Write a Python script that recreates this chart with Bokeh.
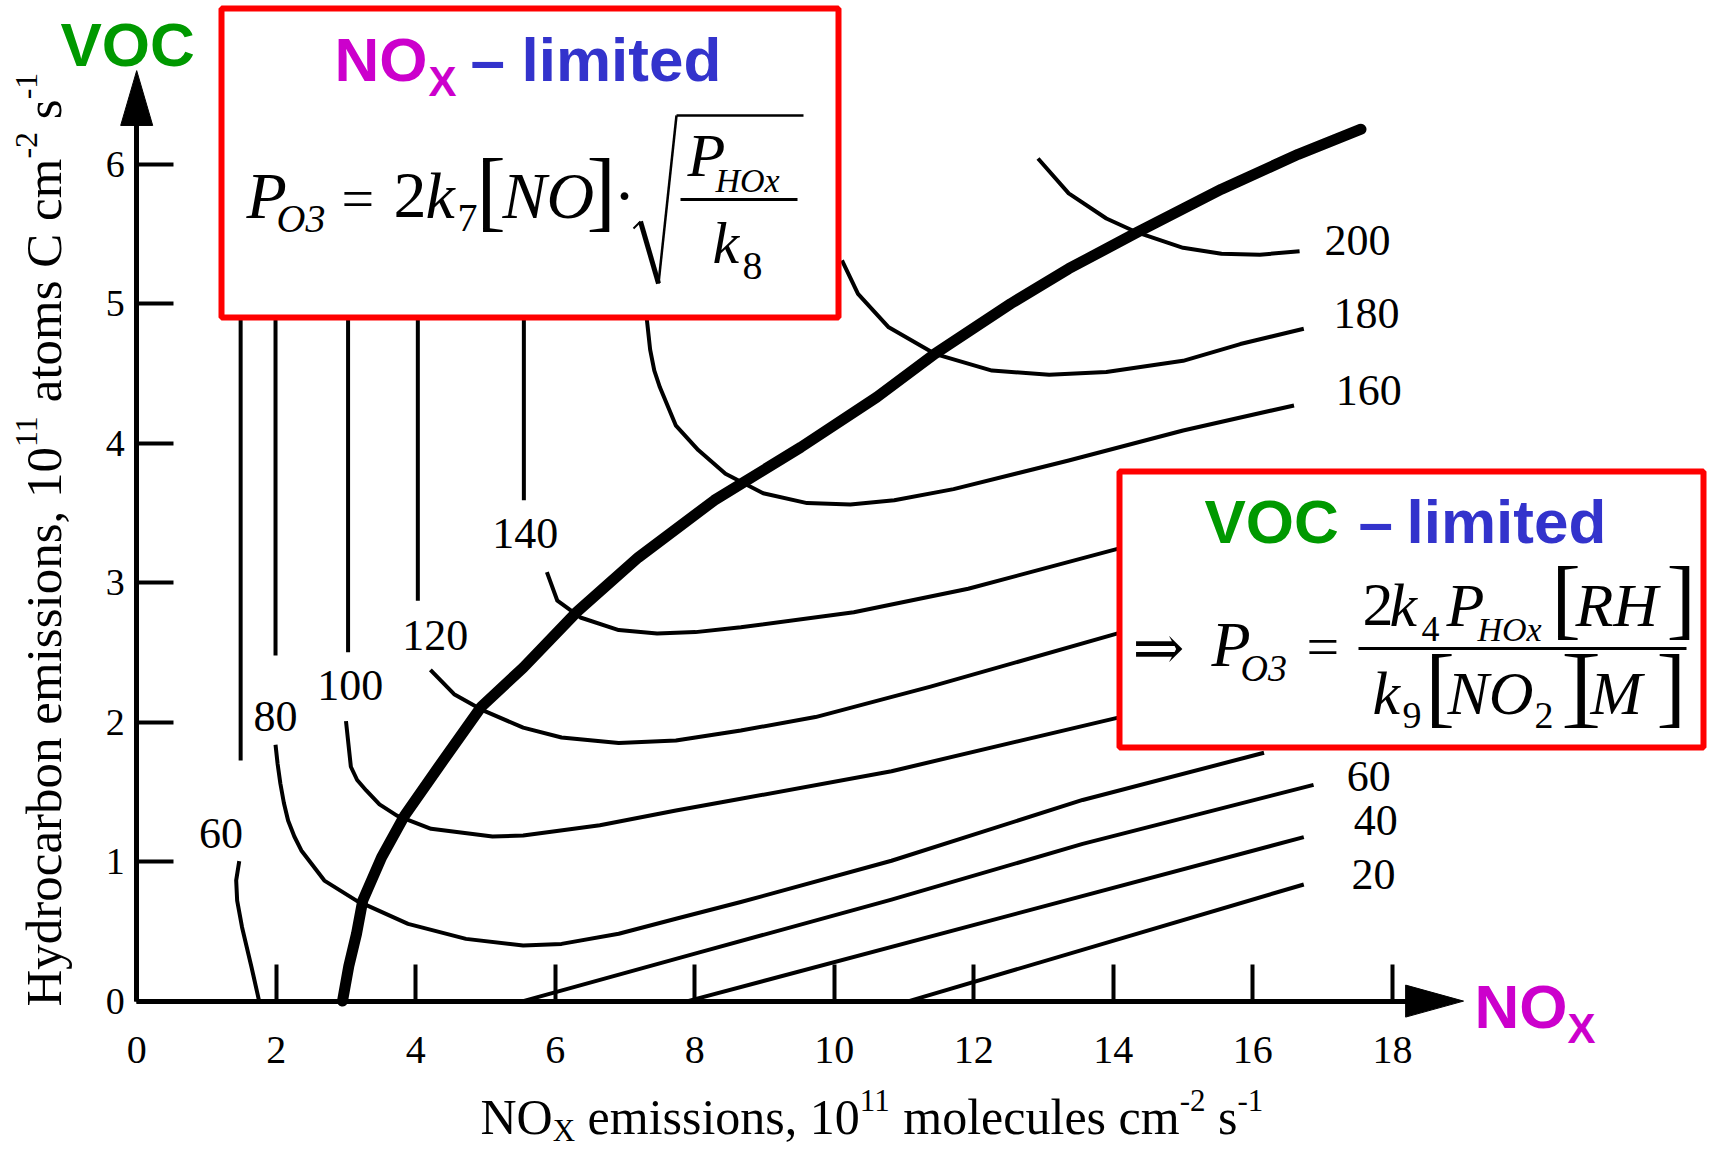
import math
from bokeh.plotting import figure
from bokeh.models import (Range1d, LinearAxis, FixedTicker, Label, BoxAnnotation,
                          Arrow, PolyAnnotation, ColumnDataSource)
from bokeh.core.properties import value
from bokeh.embed import file_html
from bokeh.resources import INLINE

# ---------------- data ----------------
x_ticks = [0, 2, 4, 6, 8, 10, 12, 14, 16, 18]
y_ticks = [0, 1, 2, 3, 4, 5, 6]

# thick ridge line separating NOx-limited and VOC-limited regimes
ridge_x = [2.95, 3.04, 3.15, 3.24, 3.51, 3.84, 4.33, 4.94, 5.54, 6.31, 7.19, 8.28,
           9.52, 10.61, 11.44, 12.53, 13.36, 14.34, 15.55, 16.65, 17.55]
ridge_y = [0.0, 0.25, 0.48, 0.72, 1.03, 1.33, 1.68, 2.11, 2.39, 2.79, 3.18, 3.59,
           3.97, 4.33, 4.64, 5.00, 5.25, 5.51, 5.82, 6.07, 6.25]

# ozone isopleths (ppb)
c60_top_x = [1.49, 1.49]
c60_top_y = [6.3, 1.725]
c60_low_x = [1.47, 1.426, 1.44, 1.51, 1.646, 1.755]
c60_low_y = [1.003, 0.865, 0.72, 0.53, 0.243, 0.0]
c60_right_x = [5.54, 8.08, 10.82, 13.56, 16.87]
c60_right_y = [0.0, 0.351, 0.727, 1.127, 1.55]

c80_top_x = [1.99, 1.99]
c80_top_y = [6.3, 2.477]
c80_low_x = [1.99, 2.02, 2.06, 2.11, 2.17, 2.26, 2.36, 2.69, 3.15, 3.89, 4.72, 5.54, 6.09,
             6.91, 7.73, 8.66, 10.82, 13.56, 16.16]
c80_low_y = [1.837, 1.70, 1.558, 1.42, 1.295, 1.18, 1.08, 0.864, 0.72, 0.554, 0.446, 0.399,
             0.41, 0.483, 0.59, 0.71, 1.006, 1.442, 1.78]

c100_top_x = [3.03, 3.03]
c100_top_y = [6.3, 2.50]
c100_low_x = [3.00, 3.07, 3.16, 3.29, 3.48, 3.73, 4.22, 5.10, 5.54, 6.64, 7.73, 8.66,
              10.82, 14.1]
c100_low_y = [2.007, 1.68, 1.585, 1.51, 1.41, 1.33, 1.235, 1.18, 1.187, 1.26, 1.366, 1.45,
              1.648, 2.036]

c120_top_x = [4.03, 4.03]
c120_top_y = [6.3, 2.87]
c120_low_x = [4.21, 4.55, 4.94, 5.54, 6.09, 6.91, 7.73, 8.66, 9.73, 11.38, 14.1]
c120_low_y = [2.375, 2.20, 2.09, 1.96, 1.89, 1.85, 1.868, 1.94, 2.036, 2.254, 2.641]

c140_top_x = [5.55, 5.55]
c140_top_y = [6.3, 3.59]
c140_low_x = [5.88, 6.03, 6.36, 6.91, 7.46, 8.01, 8.66, 10.28, 11.92, 14.1]
c140_low_y = [3.075, 2.87, 2.75, 2.66, 2.635, 2.645, 2.68, 2.787, 2.956, 3.247]

c160_x = [7.31, 7.36, 7.42, 7.50, 7.73, 8.05, 8.44, 8.98, 9.61, 10.23, 10.86, 11.71, 13.36,
          15.0, 16.59]
c160_y = [4.90, 4.67, 4.52, 4.40, 4.125, 3.95, 3.78, 3.64, 3.57, 3.56, 3.59, 3.67, 3.875,
          4.09, 4.27]

c180_x = [10.11, 10.34, 10.78, 11.44, 12.26, 13.08, 13.90, 15.0, 15.82, 16.73]
c180_y = [5.31, 5.07, 4.83, 4.64, 4.52, 4.49, 4.51, 4.59, 4.71, 4.82]

c200_x = [12.92, 13.36, 13.90, 14.34, 15.0, 15.55, 16.10, 16.67]
c200_y = [6.04, 5.79, 5.61, 5.51, 5.40, 5.357, 5.35, 5.376]

c40_x = [7.90, 16.73]
c40_y = [0.0, 1.175]
c20_x = [11.07, 16.73]
c20_y = [0.0, 0.836]

label_text = ["60", "80", "100", "120", "140", "160", "180", "200", "60", "40", "20"]
label_x = [1.21, 1.99, 3.06, 4.28, 5.57, 17.66, 17.63, 17.50, 17.66, 17.76, 17.73]
label_y = [1.20, 2.04, 2.26, 2.62, 3.35, 4.38, 4.93, 5.45, 1.61, 1.295, 0.91]

# ---------------- layout helpers ----------------
W, H = 1709, 1151
X0PX, XSCALE = 136.2, 69.76
Y0PX, YSCALE = 1000.6, 139.5


def dx(px):
    return (px - X0PX) / XSCALE


def dy(py):
    return (Y0PX - py) / YSCALE


SERIF = "Liberation Serif"
SANS = "Liberation Sans"
ARROWFONT = "DejaVu Serif"
GREEN = "#009900"
MAGENTA = "#CC00CC"
BLUE = "#3333CC"
RED = "#FF0000"
# distance (in em) from alphabetic baseline to the font's "middle"
MID = {SERIF: 0.33, SANS: 0.34, ARROWFONT: 0.34}

p = figure(width=W, height=H, x_range=Range1d(dx(0), dx(W)), y_range=Range1d(dy(H), dy(0)),
           x_axis_type=None, y_axis_type=None, toolbar_location=None,
           output_backend="svg", min_border=0)
p.outline_line_color = None
p.background_fill_color = "white"
p.border_fill_color = "white"

# isopleths
iso_xs = [c60_top_x, c60_low_x, c60_right_x, c80_top_x, c80_low_x, c100_top_x, c100_low_x,
          c120_top_x, c120_low_x, c140_top_x, c140_low_x, c160_x, c180_x, c200_x, c40_x, c20_x]
iso_ys = [c60_top_y, c60_low_y, c60_right_y, c80_top_y, c80_low_y, c100_top_y, c100_low_y,
          c120_top_y, c120_low_y, c140_top_y, c140_low_y, c160_y, c180_y, c200_y, c40_y, c20_y]
p.multi_line(xs=iso_xs, ys=iso_ys, line_color="black", line_width=4, line_join="round")
p.line(ridge_x, ridge_y, line_color="black", line_width=11, line_cap="round",
       line_join="round")

src = ColumnDataSource(dict(x=label_x, y=label_y, text=label_text))
p.text(x="x", y="y", text="text", source=src, text_font=value(SERIF),
       text_font_size="44px", text_align="center", text_baseline="middle",
       text_color="black")

# axes
X_END, Y_END = 18.6, 6.45
xaxis = LinearAxis(fixed_location=0, bounds=(0, X_END), ticker=FixedTicker(ticks=x_ticks),
                   major_tick_in=37, major_tick_out=0, minor_tick_in=0, minor_tick_out=0,
                   axis_line_width=5, axis_line_color="black",
                   major_tick_line_width=4, major_tick_line_color="black",
                   major_label_text_font=SERIF, major_label_text_font_size="40px",
                   major_label_text_color="black", major_label_standoff=36)
yaxis = LinearAxis(fixed_location=0, bounds=(0, Y_END), ticker=FixedTicker(ticks=y_ticks),
                   major_tick_in=37, major_tick_out=0, minor_tick_in=0, minor_tick_out=0,
                   axis_line_width=5, axis_line_color="black",
                   major_tick_line_width=4, major_tick_line_color="black",
                   major_label_text_font=SERIF, major_label_text_font_size="38px",
                   major_label_text_color="black", major_label_standoff=12)
p.add_layout(xaxis, "below")
p.add_layout(yaxis, "left")

# arrow heads of the axes
XA_BASE, XA_TIP, XA_HALF = 18.19, 19.02, 16 / YSCALE
YA_BASE, YA_TIP, YA_HALF = 6.277, 6.67, 16 / XSCALE
p.add_layout(PolyAnnotation(xs=[XA_BASE, XA_TIP, XA_BASE], ys=[-XA_HALF, 0, XA_HALF],
                            fill_color="black", fill_alpha=1, line_color="black",
                            line_alpha=1, line_width=1))
p.add_layout(PolyAnnotation(xs=[-YA_HALF, 0, YA_HALF], ys=[YA_BASE, YA_TIP, YA_BASE],
                            fill_color="black", fill_alpha=1, line_color="black",
                            line_alpha=1, line_width=1))

# boxes
p.add_layout(BoxAnnotation(left=dx(221), right=dx(838), top=dy(8), bottom=dy(317),
                           fill_color="white", fill_alpha=1, line_color=RED,
                           line_alpha=1, line_width=6))
p.add_layout(BoxAnnotation(left=dx(1119), right=dx(1703), top=dy(471), bottom=dy(747),
                           fill_color="white", fill_alpha=1, line_color=RED,
                           line_alpha=1, line_width=6))


def put(txt, px, py, size, color="black", font=SERIF, style="normal", rotated=False):
    """Place text whose alphabetic baseline starts at pixel (px, py)."""
    off = MID.get(font, 0.33) * size
    if rotated:
        x, y, ang = px - off, py, math.pi / 2
    else:
        x, y, ang = px, py - off, 0.0
    p.add_layout(Label(x=dx(x), y=dy(y), text=txt, text_font=font,
                       text_font_size=f"{size}px", text_font_style=style,
                       text_color=color, text_align="left", text_baseline="middle",
                       angle=ang))


def seg(px1, py1, px2, py2, lw):
    p.add_layout(Arrow(x_start=dx(px1), y_start=dy(py1), x_end=dx(px2), y_end=dy(py2),
                       end=None, line_color="black", line_width=lw))


# axis titles composed of pieces (Times metrics)
TNR = {' ': 250, ',': 250, '-': 333, '0': 500, '1': 500, '2': 500, 'C': 667, 'H': 722,
       'N': 722, 'O': 722, 'X': 722, 'a': 444, 'b': 500, 'c': 444, 'd': 500, 'e': 444,
       'i': 278, 'l': 278, 'm': 778, 'n': 500, 'o': 500, 'r': 333, 's': 389, 't': 278,
       'u': 500, 'y': 500}


def composed(pieces, start, base, S, rotated=False):
    pos = start
    for txt, kind in pieces:
        size = S if kind == "main" else round(S * 0.62)
        shift = {"main": 0.0, "sup": -0.46 * S, "sub": 0.15 * S}[kind]
        lead = len(txt) - len(txt.lstrip(" "))
        pos += (-1 if rotated else 1) * lead * TNR[' '] * size / 1000.0
        body = txt.strip(" ")
        w = sum(TNR[c] for c in body) * size / 1000.0
        if rotated:
            put(body, base + shift, pos, size, rotated=True)
            pos -= w
        else:
            put(body, pos, base + shift, size)
            pos += w
        trail = len(txt) - len(txt.rstrip(" "))
        pos += (-1 if rotated else 1) * trail * TNR[' '] * size / 1000.0


composed([("NO", "main"), ("X", "sub"), (" emissions, 10", "main"), ("11", "sup"),
          (" molecules cm", "main"), ("-2", "sup"), (" s", "main"), ("-1", "sup")],
         480, 1133, 50)
composed([("Hydrocarbon emissions, 10", "main"), ("11", "sup"), (" atoms C cm", "main"),
          ("-2", "sup"), (" s", "main"), ("-1", "sup")],
         1006, 60, 51, rotated=True)

# big coloured axis names
put("VOC", 60, 65, 62, GREEN, SANS, "bold")
put("NO", 1474, 1027, 62, MAGENTA, SANS, "bold")
put("X", 1567, 1042, 42, MAGENTA, SANS, "bold")

# NOx-limited box
put("NO", 334, 80, 62, MAGENTA, SANS, "bold")
put("X", 428, 95, 42, MAGENTA, SANS, "bold")
put("\u2013", 470, 80, 62, BLUE, SANS, "bold")
put("limited", 521, 80, 62, BLUE, SANS, "bold")

put("P", 246, 217, 66, style="italic")
put("O3", 276, 231, 40, style="italic")
put("=", 341, 217, 58)
put("2", 393, 217, 66)
put("k", 425, 217, 66, style="italic")
put("7", 457, 231, 40)
put("[", 476, 219, 88)
put("NO", 502, 217, 66, style="italic")
put("]", 586, 219, 88)
put("\u00b7", 613, 217, 66)
seg(633, 228, 640, 221, 2)
seg(640, 221, 658, 283, 5)
seg(658, 283, 676, 115, 2.5)
seg(676, 115, 803, 115, 2.5)
put("P", 687, 175, 62, style="italic")
put("HOx", 715, 191, 34, style="italic")
seg(680, 199, 797, 199, 3)
put("k", 712, 262, 60, style="italic")
put("8", 742, 279, 40)

# VOC-limited box
put("VOC", 1204, 542, 62, GREEN, SANS, "bold")
put("\u2013", 1358, 542, 62, BLUE, SANS, "bold")
put("limited", 1406, 542, 62, BLUE, SANS, "bold")

put("\u21d2", 1132, 668, 62, font=ARROWFONT)
put("P", 1211, 665, 64, style="italic")
put("O3", 1240, 680, 38, style="italic")
put("=", 1306, 665, 58)
put("2", 1362, 625, 62)
put("k", 1389, 625, 62, style="italic")
put("4", 1421, 640, 36)
put("P", 1446, 625, 62, style="italic")
put("HOx", 1477, 640, 34, style="italic")
put("[", 1551, 627, 88)
put("RH", 1575, 625, 62, style="italic")
put("]", 1666, 627, 88)
seg(1358, 648, 1686, 648, 3)
put("k", 1372, 713, 62, style="italic")
put("9", 1402, 728, 38)
put("[", 1425, 715, 88)
put("NO", 1447, 713, 62, style="italic")
put("2", 1534, 728, 38)
put("]", 1561, 715, 88)
put("[", 1571, 715, 88)
put("M", 1590, 713, 62, style="italic")
put("]", 1656, 715, 88)

open("out.html", "w").write(file_html(p, INLINE))
